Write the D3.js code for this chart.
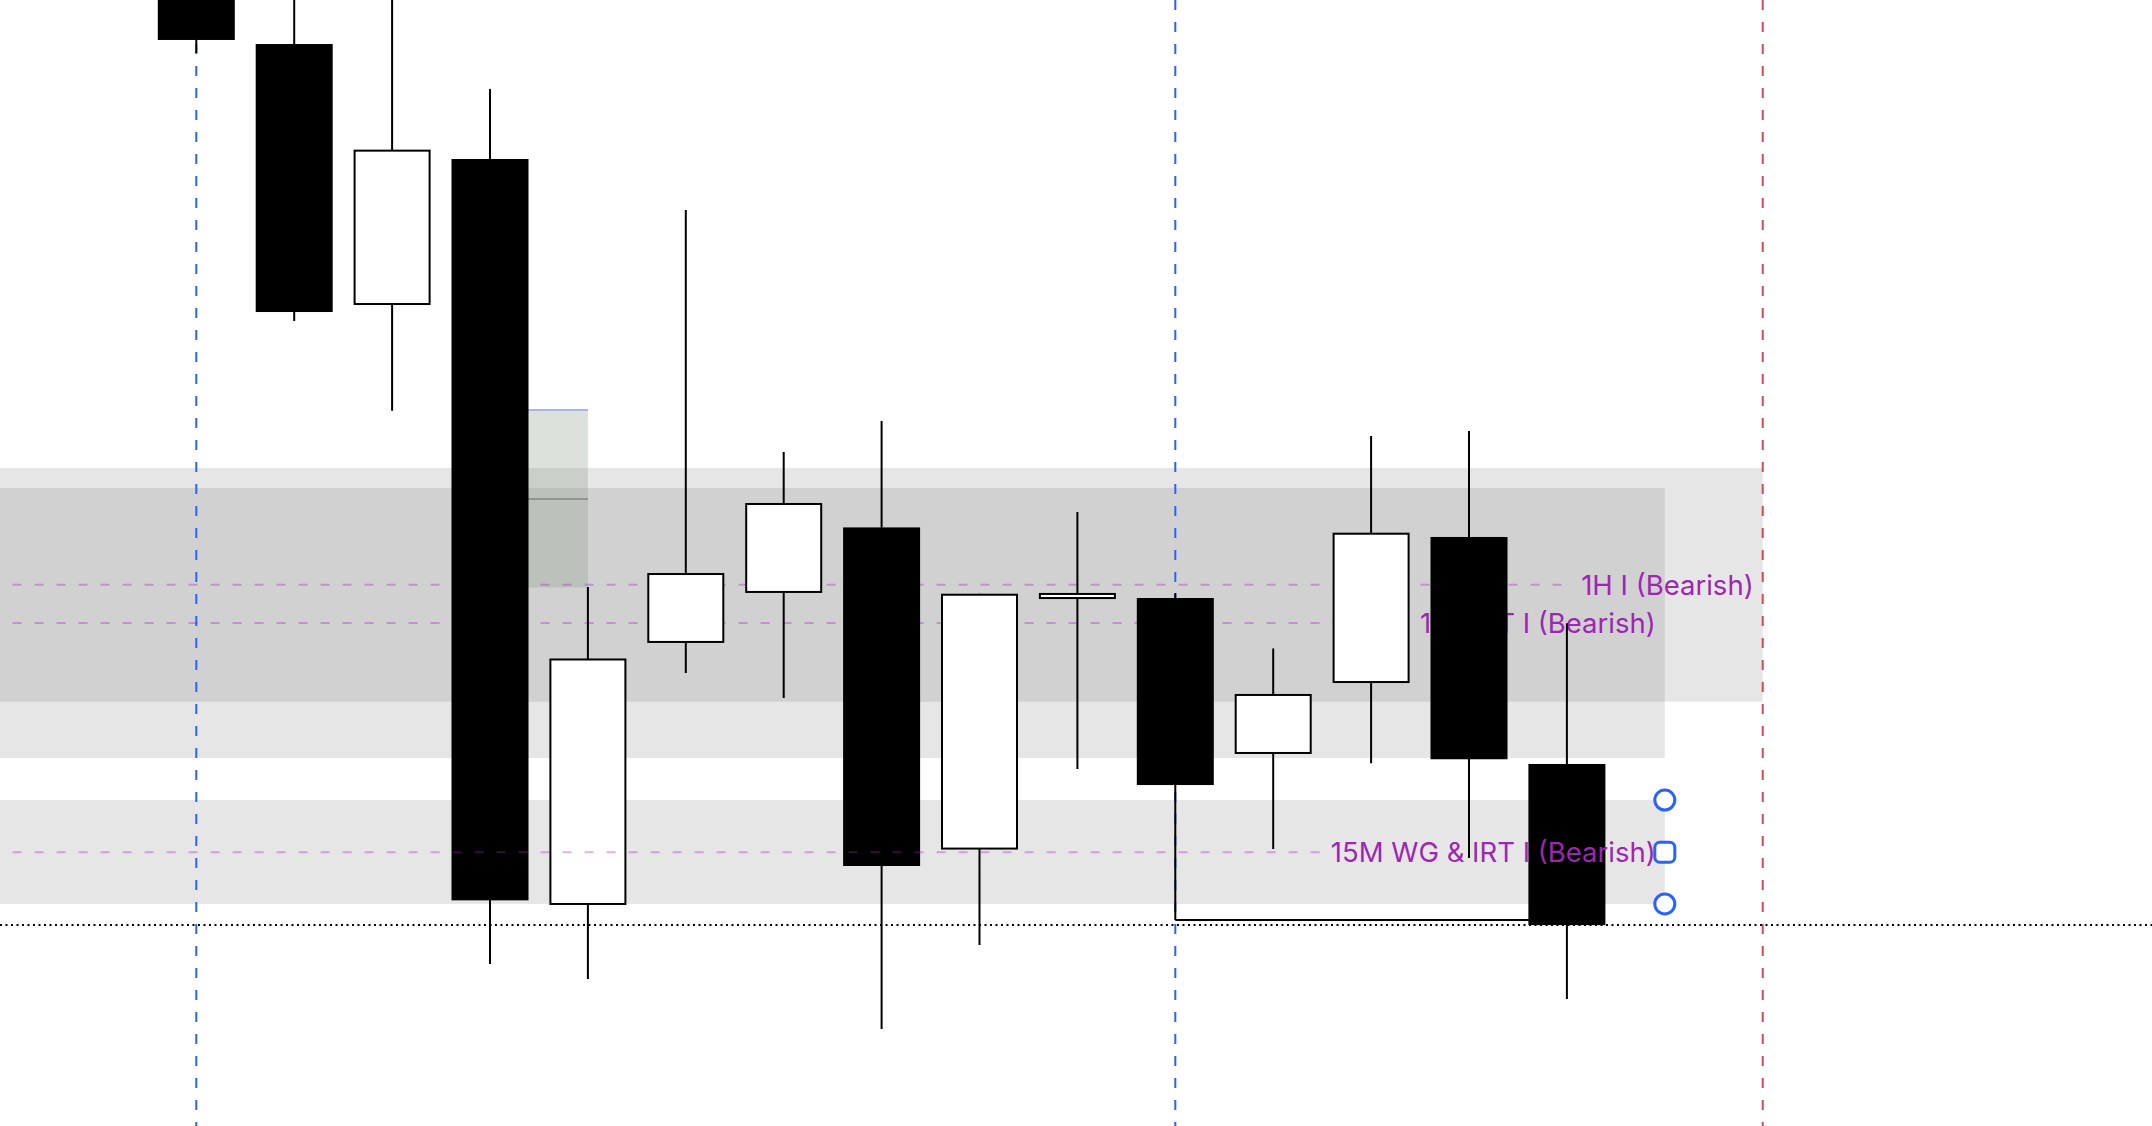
<!DOCTYPE html>
<html><head><meta charset="utf-8">
<script src="https://cdn.jsdelivr.net/npm/d3@7"></script>
<style>html,body{margin:0;padding:0;background:#fff;overflow:hidden}</style>
</head><body><svg id="chart" width="2152" height="1126"></svg>
<script>
// ---- data ----
const candleIndex = [0,1,2,3,4,5,6,7,8,9,10,11,12,13,14];
const opens  = [104.0, 96.09, 72.91, 85.88, 19.63, 42.90, 47.34, 53.16, 24.55, 46.80, 46.89, 33.04, 39.34, 52.31, 32.15];
const highs  = [106.0, 103.0, 102.0, 92.10, 47.87, 81.35, 59.86, 62.61, 47.27, 54.53, 47.34, 42.41, 61.28, 61.72, 44.64];
const lows   = [95.29, 71.49, 63.53, 14.39, 13.06, 40.23, 38.01, 8.61, 16.07, 31.71, 18.29, 24.60, 32.21, 23.80, 11.28];
const closes = [96.45, 72.29, 86.71, 20.04, 41.52, 49.11, 55.33, 23.09, 47.27, 47.34, 30.28, 38.37, 52.69, 32.57, 17.84];

const zoneTop    = [58.44, 56.66, 28.95];
const zoneBottom = [37.68, 32.68, 19.72];
const zoneStart  = [-3, -3, -3];
const zoneEnd    = [16, 15, 15];

const levelLabels = ["1H I (Bearish)", "1H CRT I (Bearish)", "15M WG & IRT I (Bearish)"];
const levelPrices = [48.07, 44.67, 24.31];
const levelEnd    = [16, 15, 15];

const blueLines = [0, 10];
const redLines  = [16];

const boxStart = 3, boxEnd = 4;
const boxPrices = [63.59, 55.68, 47.83]; // top, middle, bottom

const lowLineFrom = 10, lowLineTo = 14;
const handleIndex = 15;

// ---- scales ----
const W = 2152, H = 1126;
const x = d3.scaleLinear().domain([0, 20]).range([196.3, 196.3 + 97.9 * 20]);
const y = d3.scaleLinear().domain([0, 100]).range([H, 0]);
const bodyW = 77;

const svg = d3.select("#chart");
const purple = "#9c27b0";
const FONT = "Inter, 'Noto Sans', sans-serif";

// zones
const zones = d3.range(zoneTop.length);
svg.append("g").selectAll("rect").data(zones).join("rect")
  .attr("x", i => x(zoneStart[i]))
  .attr("width", i => x(zoneEnd[i]) - x(zoneStart[i]))
  .attr("y", i => y(zoneTop[i]))
  .attr("height", i => y(zoneBottom[i]) - y(zoneTop[i]))
  .attr("fill", "rgb(99,99,99)").attr("fill-opacity", 0.16);

// green box
const gb = svg.append("g");
gb.append("rect").attr("x", x(boxStart)).attr("width", x(boxEnd) - x(boxStart))
  .attr("y", y(boxPrices[0])).attr("height", y(boxPrices[2]) - y(boxPrices[0]))
  .attr("fill", "#8a9a8a").attr("fill-opacity", 0.3);
gb.append("line").attr("x1", x(boxStart)).attr("x2", x(boxEnd))
  .attr("y1", y(boxPrices[0])).attr("y2", y(boxPrices[0]))
  .attr("stroke", "#a9b6dd").attr("stroke-width", 2);
gb.append("line").attr("x1", x(boxStart)).attr("x2", x(boxEnd))
  .attr("y1", y(boxPrices[1])).attr("y2", y(boxPrices[1]))
  .attr("stroke", "#8f948f").attr("stroke-width", 2);

// vertical session lines
svg.append("g").selectAll("line").data(blueLines).join("line")
  .attr("x1", d => x(d)).attr("x2", d => x(d)).attr("y1", 0).attr("y2", H)
  .attr("stroke", "#2962ff").attr("stroke-width", 2).attr("stroke-dasharray", "10,12");
svg.append("g").selectAll("line").data(redLines).join("line")
  .attr("x1", d => x(d)).attr("x2", d => x(d)).attr("y1", 0).attr("y2", H)
  .attr("stroke", "#e0434f").attr("stroke-width", 2).attr("stroke-dasharray", "10,12");

// current price dotted line
svg.append("line").attr("x1", 0).attr("x2", W)
  .attr("y1", y(closes[14])).attr("y2", y(closes[14]))
  .attr("stroke", "#000").attr("stroke-width", 2).attr("stroke-dasharray", "2,3.5");

// level lines + labels
function drawLevel(g, i) {
  const t = g.append("text").attr("x", x(levelEnd[i]) - 9).attr("y", y(levelPrices[i]))
    .attr("text-anchor", "end").attr("dominant-baseline", "central")
    .attr("font-family", FONT).attr("font-size", 27.5)
    .attr("fill", purple).text(levelLabels[i]);
  const len = t.node().getComputedTextLength();
  g.insert("line", "text").attr("x1", x(-3)).attr("x2", x(levelEnd[i]) - 9 - len - 10)
    .attr("y1", y(levelPrices[i])).attr("y2", y(levelPrices[i]))
    .attr("stroke", purple).attr("stroke-opacity", 0.35).attr("stroke-width", 2)
    .attr("stroke-dasharray", "9,13");
}
const backLevels = svg.append("g");
drawLevel(backLevels.append("g"), 0);
drawLevel(backLevels.append("g"), 1);

// low line from candle 10
svg.append("polyline")
  .attr("points", [[x(lowLineFrom), y(lows[lowLineFrom])], [x(lowLineTo), y(lows[lowLineFrom])]].join(" "))
  .attr("fill", "none").attr("stroke", "#000").attr("stroke-width", 2);

// candles
const cg = svg.append("g").selectAll("g").data(candleIndex).join("g");
cg.append("line")
  .attr("x1", i => x(i)).attr("x2", i => x(i))
  .attr("y1", i => y(highs[i])).attr("y2", i => y(lows[i]))
  .attr("stroke", "#000").attr("stroke-width", 2);
cg.append("rect")
  .attr("x", i => closes[i] >= opens[i] ? x(i) - bodyW / 2 + 1 : x(i) - bodyW / 2)
  .attr("width", i => closes[i] >= opens[i] ? bodyW - 2 : bodyW)
  .attr("y", i => closes[i] >= opens[i] ? y(closes[i]) + 1 : y(opens[i]))
  .attr("height", i => closes[i] >= opens[i] ? Math.max(2, y(opens[i]) - y(closes[i]) - 2) : y(closes[i]) - y(opens[i]))
  .attr("fill", i => closes[i] >= opens[i] ? "#fff" : "#000")
  .attr("stroke", i => closes[i] >= opens[i] ? "#000" : "none")
  .attr("stroke-width", 2);

// front level
drawLevel(svg.append("g"), 2);

// selection handles of the 15M zone
const hx = x(handleIndex);
const hg = svg.append("g").attr("stroke", "#2962ff").attr("stroke-width", 3).attr("fill", "#fff");
[zoneTop[2], zoneBottom[2]].forEach(p => {
  hg.append("circle").attr("cx", hx).attr("cy", y(p)).attr("r", 10);
});
hg.append("rect").attr("x", hx - 10).attr("y", y(levelPrices[2]) - 10)
  .attr("width", 20).attr("height", 20).attr("rx", 5);
</script>
</body></html>
